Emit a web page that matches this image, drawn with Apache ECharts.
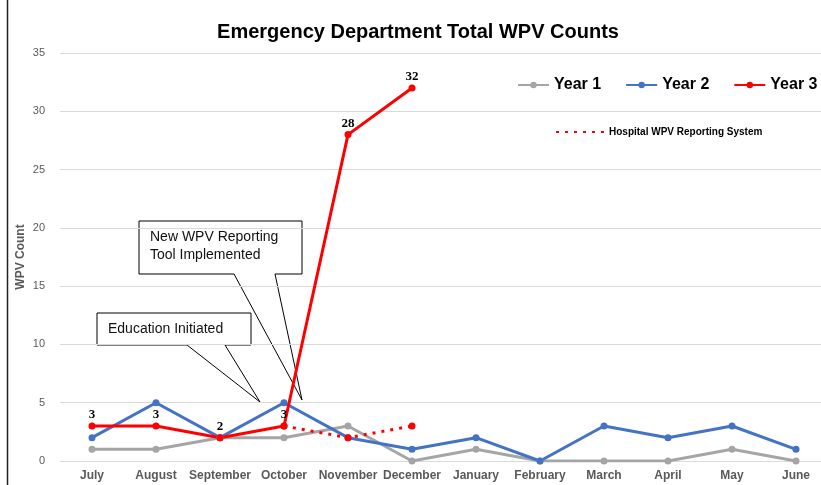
<!DOCTYPE html>
<html>
<head>
<meta charset="utf-8">
<script src="https://cdn.jsdelivr.net/npm/echarts@6/dist/echarts.min.js"></script>
<style>
  html, body { margin: 0; padding: 0; background: #fff; }
  #chart { width: 821px; height: 485px; }
</style>
</head>
<body>
<div id="chart"></div>
<script>
// 月份
const months = ['July', 'August', 'September', 'October', 'November', 'December',
  'January', 'February', 'March', 'April', 'May', 'June']
// 各年数据
const year1 = [1, 1, 2, 2, 3, 0, 1, 0, 0, 0, 1, 0]
const year2 = [2, 5, 2, 5, 2, 1, 2, 0, 3, 2, 3, 1]
const year3 = [3, 3, 2, 3, 28, 32]
const hospital = [null, null, null, 3, 2, 3]
const yTicks = [0, 35, 5]

const chart = echarts.init(document.getElementById('chart'))

const font = '"Liberation Sans", Arial, sans-serif'

// 标注框
const callout = (pts, lines, tx, ty) => ({
  type: 'group',
  z: 1,
  children: [
    {
      type: 'polygon',
      shape: { points: pts },
      style: { fill: '#fff', stroke: '#000', lineWidth: 1 },
    },
    {
      type: 'text',
      x: tx,
      y: ty,
      style: {
        text: lines,
        font: '14px ' + font,
        fill: '#111',
        lineHeight: 18,
      },
    },
  ],
})

const option = {
  backgroundColor: '#fff',
  animation: false,
  title: {
    text: 'Emergency Department Total WPV Counts',
    left: 413,
    textAlign: 'center',
    top: 17,
    textStyle: { fontFamily: font, fontSize: 20, fontWeight: 'bold', color: '#000' },
  },
  legend: [
    {
      data: ['Year 1', 'Year 2', 'Year 3'],
      left: 512,
      top: 72,
      width: 400,
      itemWidth: 31,
      itemHeight: 8,
      itemGap: 24,
      textStyle: { fontFamily: font, fontSize: 16, fontWeight: 'bold', color: '#000' },
    },
    {
      data: [{ name: 'Hospital WPV Reporting System', itemStyle: { opacity: 0 } }],
      left: 550,
      top: 122,
      width: 400,
      itemWidth: 48,
      itemHeight: 8,
      textStyle: { fontFamily: font, fontSize: 10, fontWeight: 'bold', color: '#000' },
    },
  ],
  grid: { left: 60, width: 768, top: 53, bottom: 24, outerBoundsMode: 'none', containLabel: false },
  xAxis: {
    type: 'category',
    data: months,
    axisLine: { lineStyle: { color: '#d9d9d9' } },
    axisTick: { show: false },
    axisLabel: {
      color: '#595959',
      fontFamily: font,
      fontSize: 12,
      fontWeight: 'bold',
      margin: 9,
      interval: 0,
    },
  },
  yAxis: {
    type: 'value',
    min: yTicks[0],
    max: yTicks[1],
    interval: yTicks[2],
    name: 'WPV Count',
    nameLocation: 'middle',
    nameGap: 33,
    nameMoveOverlap: false,
    nameTextStyle: { fontFamily: font, fontSize: 12, fontWeight: 'bold', color: '#595959' },
    axisLine: { show: false },
    axisTick: { show: false },
    axisLabel: { color: '#595959', fontFamily: font, fontSize: 11, margin: 15 },
    splitLine: { lineStyle: { color: '#d9d9d9', width: 1 } },
  },
  series: [
    {
      name: 'Year 1',
      type: 'line',
      data: year1,
      symbol: 'circle',
      symbolSize: 7,
      color: '#a5a5a5',
      lineStyle: { width: 3 },
    },
    {
      name: 'Year 2',
      type: 'line',
      data: year2,
      symbol: 'circle',
      symbolSize: 7,
      color: '#4472c4',
      lineStyle: { width: 3 },
    },
    {
      name: 'Hospital WPV Reporting System',
      type: 'line',
      data: hospital,
      symbol: 'circle',
      symbolSize: 7,
      color: '#ff0000',
      lineStyle: { width: 3, type: [3, 6] },
    },
    {
      name: 'Year 3',
      type: 'line',
      data: year3,
      symbol: 'circle',
      symbolSize: 7,
      color: '#ff0000',
      lineStyle: { width: 3 },
      label: {
        show: true,
        position: 'top',
        distance: 1,
        color: '#000',
        fontFamily: '"Liberation Serif", "Times New Roman", serif',
        fontWeight: 'bold',
        fontSize: 13,
      },
    },
  ],
  graphic: [
    {
      type: 'line',
      shape: { x1: 7.5, y1: 0, x2: 7.5, y2: 485 },
      style: { stroke: '#222', lineWidth: 1.5 },
    },
    callout(
      [[97, 313], [251, 313], [251, 345], [225, 345], [260, 402], [187, 345], [97, 345]],
      'Education Initiated', 108, 320
    ),
    callout(
      [[139, 221], [302, 221], [302, 274], [275, 274], [302, 400], [234, 274], [139, 274]],
      'New WPV Reporting\nTool Implemented', 150, 228
    ),
  ],
}

chart.setOption(option)
</script>
</body>
</html>
